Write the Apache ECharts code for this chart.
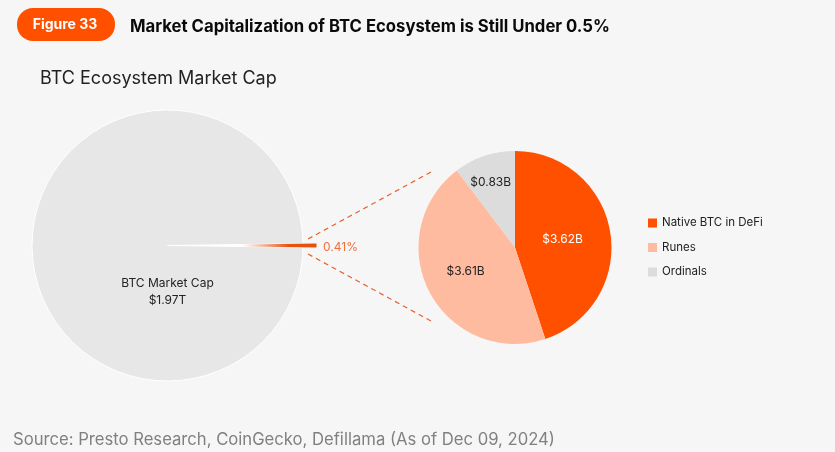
<!DOCTYPE html>
<html>
<head>
<meta charset="utf-8">
<style>
  html, body { margin: 0; padding: 0; background: #f6f6f6; }
  #chart { width: 835px; height: 452px; }
</style>
<script src="https://cdn.jsdelivr.net/npm/echarts@6/dist/echarts.min.js"></script>
</head>
<body>
<div id="chart"></div>
<script>
// values in $B
const ecosystemNames = ['Native BTC in DeFi', 'Runes', 'Ordinals'];
const ecosystemValues = [3.62, 3.61, 0.83];
const ecosystemLabels = ['$3.62B', '$3.61B', '$0.83B'];
const ecosystemColors = ['#ff5000', '#ffbb9f', '#dcdcdc'];
const btcCapName = 'BTC Market Cap';
const btcCapValue = 1970;
const btcCapLabel = '$1.97T';
const ecosystemTotal = 8.06;
const shareLabel = '0.41%';

const font = 'Inter, "Noto Sans", sans-serif';
const chart = echarts.init(document.getElementById('chart'));

// keep the thin slice centred on the horizontal
const sliceAngle = ecosystemTotal / (btcCapValue + ecosystemTotal) * 360;
const bigStart = -sliceAngle / 2;

chart.setOption({
    animation: false,
    backgroundColor: '#f6f6f6',
    textStyle: { fontFamily: font },
    title: [
        { text: 'Market Capitalization of BTC Ecosystem is Still Under 0.5%', left: 125, top: 13,
          textStyle: { fontFamily: font, fontSize: 16.7, fontWeight: 700, color: '#0a0a0a' } },
        { text: 'BTC Ecosystem Market Cap', left: 35, top: 65,
          textStyle: { fontFamily: font, fontSize: 18, fontWeight: 400, color: '#222' } },
        { text: 'Source: Presto Research, CoinGecko, Defillama (As of Dec 09, 2024)', left: 8, top: 426,
          textStyle: { fontFamily: font, fontSize: 16.65, fontWeight: 400, color: '#808080' } }
    ],
    legend: {
        data: ecosystemNames,
        orient: 'vertical',
        left: 643,
        top: 212,
        itemWidth: 9,
        itemHeight: 9,
        itemGap: 12.5,
        icon: 'rect',
        textStyle: { fontFamily: font, fontSize: 11.5, color: '#222' }
    },
    series: [
        {
            type: 'pie',
            center: [167.5, 245.5],
            radius: [0, 135.5],
            startAngle: bigStart,
            clockwise: false,
            silent: true,
            itemStyle: { borderColor: '#ffffff', borderWidth: 1 },
            label: { show: false },
            labelLine: { show: false },
            data: [
                { name: 'slice', value: ecosystemTotal, itemStyle: { color: '#ffffff' } },
                { name: btcCapName, value: btcCapValue, itemStyle: { color: '#e7e7e7' },
                  label: { show: true, position: 'center', offset: [0, 46], lineHeight: 17,
                           formatter: btcCapName + '\n' + btcCapLabel,
                           fontFamily: font, fontSize: 12, color: '#222' } }
            ]
        },
        {
            // same slice drawn longer, fading from white to orange
            type: 'pie',
            center: [167.5, 245.5],
            radius: [0, 149],
            startAngle: bigStart,
            clockwise: false,
            silent: true,
            label: { show: false },
            labelLine: { show: false },
            data: [
                { name: 'share', value: ecosystemTotal,
                  itemStyle: { color: new echarts.graphic.LinearGradient(0, 0, 1, 0, [
                      { offset: 0, color: '#ffffff' },
                      { offset: 0.5, color: '#ffffff' },
                      { offset: 0.82, color: '#e8500f' },
                      { offset: 1, color: '#e8500f' }
                  ]) },
                  label: { show: true, position: 'center', offset: [173, 1.5],
                           formatter: shareLabel, fontFamily: font, fontSize: 12, color: '#f0703a' } },
                { name: 'rest', value: btcCapValue, itemStyle: { color: 'transparent' } }
            ]
        },
        {
            type: 'pie',
            center: [515, 247.5],
            radius: [0, 96.5],
            startAngle: 90,
            silent: true,
            label: { show: true, position: 'inside', fontFamily: font, fontSize: 12,
                     formatter: p => ecosystemLabels[p.dataIndex] },
            labelLine: { show: false },
            data: ecosystemNames.map((name, i) => ({
                name: name,
                value: ecosystemValues[i],
                itemStyle: { color: ecosystemColors[i] },
                label: {
                    color: i === 0 ? '#ffffff' : '#222',
                    offset: i === 1 ? [-4, 0] : i === 2 ? [-8, -17] : [-3, 0]
                }
            }))
        }
    ],
    graphic: [
        { type: 'rect', shape: { x: 17, y: 8, width: 98, height: 33, r: 16 }, style: { fill: '#ff5000' } },
        { type: 'text', x: 65, y: 25, style: { text: 'Figure 33', fill: '#fff', font: '700 14px ' + font, textAlign: 'center', textVerticalAlign: 'middle' } },
        { type: 'line', shape: { x1: 308, y1: 239, x2: 431, y2: 172 }, style: { stroke: '#e8602c', lineWidth: 1.2, lineDash: [5, 4] } },
        { type: 'line', shape: { x1: 308, y1: 254, x2: 431, y2: 321 }, style: { stroke: '#e8602c', lineWidth: 1.2, lineDash: [5, 4] } }
    ]
});

window.addEventListener('resize', () => chart.resize());
</script>
</body>
</html>
